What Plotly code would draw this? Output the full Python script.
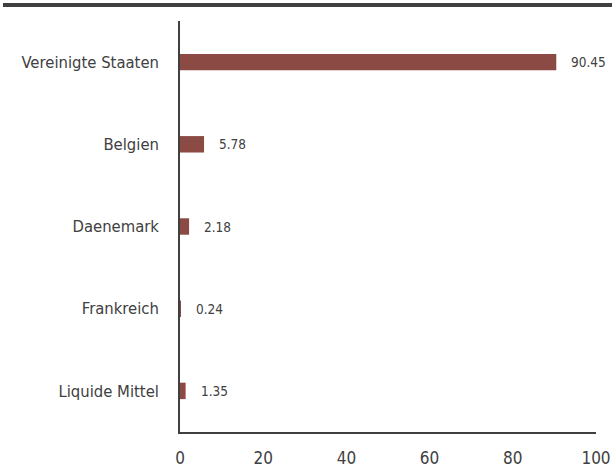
import plotly.graph_objects as go

categories = ["Vereinigte Staaten", "Belgien", "Daenemark", "Frankreich", "Liquide Mittel"]
values = [90.45, 5.78, 2.18, 0.24, 1.35]
labels = ["90.45", "5.78", "2.18", "0.24", "1.35"]
x_ticks = [0, 20, 40, 60, 80, 100]

FONT = "Liberation Sans Narrow, DejaVu Sans Condensed, Roboto, sans-serif"
GRAY = "#404040"
BAR = "#8B4A44"

fig = go.Figure()
fig.add_trace(go.Bar(
    y=categories, x=values, orientation="h",
    marker=dict(color=BAR, line=dict(width=0)),
    width=0.2, hoverinfo="skip",
))

for c, v, t in zip(categories, values, labels):
    fig.add_annotation(x=v, y=c, text=t, showarrow=False, xanchor="left",
                       xshift=13, font=dict(family=FONT, size=13.5, color=GRAY))

fig.add_shape(type="line", xref="paper", yref="paper",
              x0=-0.4255, x1=1.04, y0=1.039, y1=1.039,
              line=dict(color=GRAY, width=4))

fig.update_layout(
    width=612, height=470,
    margin=dict(l=180, r=16, t=21, b=38),
    paper_bgcolor="white", plot_bgcolor="white",
    showlegend=False,
    font=dict(family=FONT, size=16, color=GRAY),
    xaxis=dict(range=[0, 100], tickvals=x_ticks, showgrid=False, zeroline=False,
               showline=True, linecolor=GRAY, linewidth=1.5, ticks="",
               automargin=False,
               ticklabelstandoff=10, tickfont=dict(size=17, color=GRAY)),
    yaxis=dict(range=[4.5, -0.5], autorange=False, showgrid=False, zeroline=False,
               showline=True, linecolor=GRAY, linewidth=1.5, ticks="",
               automargin=False,
               ticklabelstandoff=16, tickfont=dict(size=16.5, color=GRAY)),
)

fig.write_html("out.html", config={"displayModeBar": False},
               post_script="document.body.style.margin='0';")
